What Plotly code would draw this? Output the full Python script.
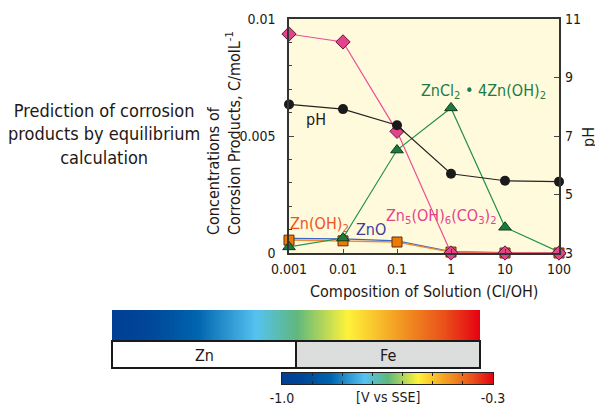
import plotly.graph_objects as go

# ---------------- data ----------------
ratio = [0.001, 0.01, 0.1, 1, 10, 100]
ratio_labels = ["0.001", "0.01", "0.1", "1", "10", "100"]

ph = [8.08, 7.92, 7.37, 5.71, 5.47, 5.44]
zn5_oh6_co3_2 = [0.00936, 0.00902, 0.0052, 0.0, 0.0, 0.0]
zncl2_4znoh2 = [0.00026, 0.00064, 0.0044, 0.0062, 0.0011, 0.00005]
zn_oh_2 = [0.00055, 0.00052, 0.00047, 0.00004, 0.0, 0.0]
zno = [0.00062, 0.0006, 0.00052, 0.00006, 0.00001, 0.0]

conc_ticks = [0, 0.005, 0.01]
conc_labels = ["0", "0.005", "0.01"]
ph_ticks = [3, 5, 7, 9, 11]

potential_ticks = [-1.0, -0.9, -0.8, -0.7, -0.6, -0.5, -0.4, -0.3]
potential_labels = ["-1.0", "", "", "", "", "", "", "-0.3"]

colorscale = [
    [0.0, "#003f94"], [0.1, "#004799"], [0.23, "#0064ae"], [0.39, "#55c2f0"],
    [0.50, "#5fb77e"], [0.64, "#fff23a"], [0.78, "#f39a22"], [0.90, "#e9521a"],
    [1.0, "#e60012"],
]

# the page body has an 8px margin: the figure is placed at (8, 8) in the window
OFF = 8
W, H = 603 - OFF, 407 - OFF
def px(x):
    return (x - OFF) / W
def py(y):
    return 1 - (y - OFF) / H

FONT = "Liberation Sans Narrow, DejaVu Sans Condensed, Arial Narrow, sans-serif"
TXT = "#231815"

fig = go.Figure()

# main chart traces
fig.add_trace(go.Scatter(x=ratio, y=ph, yaxis="y2", mode="lines+markers",
                         line=dict(color="#222222", width=1.2),
                         marker=dict(symbol="circle", size=10, color="#1a1a1a"),
                         cliponaxis=False, showlegend=False))
fig.add_trace(go.Scatter(x=ratio, y=zno, mode="lines",
                         line=dict(color="#3a66c4", width=1.3),
                         cliponaxis=False, showlegend=False))
fig.add_trace(go.Scatter(x=ratio, y=zn_oh_2, mode="lines+markers",
                         line=dict(color="#f08a30", width=1.3),
                         marker=dict(symbol="square", size=10, color="#ef7a00",
                                     line=dict(color="#5a3010", width=1)),
                         cliponaxis=False, showlegend=False))
fig.add_trace(go.Scatter(x=ratio, y=zncl2_4znoh2, mode="lines+markers",
                         line=dict(color="#22914a", width=1.2),
                         marker=dict(symbol="triangle-up", size=11, color="#1c7a3e",
                                     line=dict(color="#0e3a1c", width=1)),
                         cliponaxis=False, showlegend=False))
fig.add_trace(go.Scatter(x=ratio, y=zn5_oh6_co3_2, mode="lines+markers",
                         line=dict(color="#ec4d97", width=1.2),
                         marker=dict(symbol="diamond", size=11, color="#e5428c",
                                     line=dict(color="#5a1a35", width=1)),
                         cliponaxis=False, showlegend=False))

# big gradient bar
fig.add_trace(go.Heatmap(x=potential_ticks, y=[0], z=[potential_ticks],
                         colorscale=colorscale, zmin=-1.0, zmax=-0.3, zsmooth="best",
                         showscale=False, hoverinfo="skip", xaxis="x2", yaxis="y3"))
# small colour scale bar
fig.add_trace(go.Heatmap(x=potential_ticks, y=[0], z=[potential_ticks],
                         colorscale=colorscale, zmin=-1.0, zmax=-0.3, zsmooth="best",
                         showscale=False, hoverinfo="skip", xaxis="x3", yaxis="y4"))

axis_line = dict(showline=True, linecolor="#333333", linewidth=1.5, mirror=True)

fig.update_layout(
    width=W, height=H, margin=dict(l=0, r=0, t=0, b=0, autoexpand=False),
    paper_bgcolor="white", plot_bgcolor="#fffadc",
    font=dict(family=FONT, size=14, color=TXT),
    xaxis=dict(domain=[px(289), px(559)], type="log", range=[-3, 2],
               tickvals=ratio, ticktext=ratio_labels, ticks="inside", ticklen=4,
               showgrid=False, zeroline=False, anchor="y", automargin=False,
               ticklabelstandoff=2, **axis_line),
    yaxis=dict(domain=[py(253), py(19)], range=[0, 0.01],
               tickvals=conc_ticks, ticktext=conc_labels, ticks="inside", ticklen=5,
               minor=dict(dtick=0.001, ticks="inside", ticklen=3, tick0=0, showgrid=False),
               ticklabelstandoff=9, automargin=False,
               showgrid=False, zeroline=False, anchor="x", **axis_line),
    yaxis2=dict(overlaying="y", side="right", range=[3, 11], tickvals=ph_ticks,
                ticks="inside", ticklen=5, ticklabelstandoff=5, automargin=False,
                showgrid=False, zeroline=False, anchor="x"),
    xaxis2=dict(domain=[px(112), px(480)], range=[-1.0, -0.3], visible=False,
                anchor="y3", automargin=False),
    yaxis3=dict(domain=[py(340), py(310)], range=[-0.5, 0.5], visible=False,
                anchor="x2", automargin=False),
    xaxis3=dict(domain=[px(282), px(493)], range=[-1.0, -0.3],
                tickvals=potential_ticks, ticktext=potential_labels,
                ticks="inside", ticklen=3, tickcolor="#222222",
                showline=True, linecolor="#222222", linewidth=1.2, mirror="ticks",
                showgrid=False, zeroline=False, anchor="y4", ticklabelstandoff=1,
                automargin=False, tickfont=dict(size=14)),
    yaxis4=dict(domain=[py(384), py(373)], range=[-0.5, 0.5],
                showticklabels=False, ticks="", showgrid=False, zeroline=False,
                showline=True, linecolor="#222222", linewidth=1.2, mirror=True,
                anchor="x3", automargin=False),
)

# Zn / Fe boxes
fig.add_shape(type="rect", xref="paper", yref="paper",
              x0=px(112), x1=px(296), y0=py(368), y1=py(341),
              line=dict(color="#1a1a1a", width=2), fillcolor="white")
fig.add_shape(type="rect", xref="paper", yref="paper",
              x0=px(296), x1=px(480), y0=py(368), y1=py(341),
              line=dict(color="#1a1a1a", width=2), fillcolor="#dcdddd")

def ann(text, x, y, size=16, color=TXT, angle=0, align="center"):
    fig.add_annotation(text=text, x=px(x), y=py(y), xref="paper", yref="paper",
                       showarrow=False, xanchor="center", yanchor="middle",
                       font=dict(size=size, color=color, family=FONT),
                       textangle=angle, align=align)

ann("Zn", 204, 355, 16)
ann("Fe", 388, 355, 16)
ann("[V vs SSE]", 388, 397, 14)

ann("Prediction of corrosion<br>products by equilibrium<br>calculation", 104, 134, 18)
ann("Concentrations of<br>Corrosion Products, C/molL<sup>-1</sup>", 224, 133, 16,
    angle=-90, align="left")
ann("pH", 589, 137, 16, angle=-90)
ann("Composition of Solution (Cl/OH)", 424, 291, 16)

ann("pH", 316, 119, 16)
ann("Zn(OH)<sub>2</sub>", 319, 224, 16, color="#ee5224")
ann("ZnO", 371, 229, 16, color="#3d3d9e")
ann("Zn<sub>5</sub>(OH)<sub>6</sub>(CO<sub>3</sub>)<sub>2</sub>", 441, 216, 16, color="#e6428c")
ann("ZnCl<sub>2</sub> \u2022 4Zn(OH)<sub>2</sub>", 483, 91, 16, color="#1e7a45")

fig.write_html("out.html")
